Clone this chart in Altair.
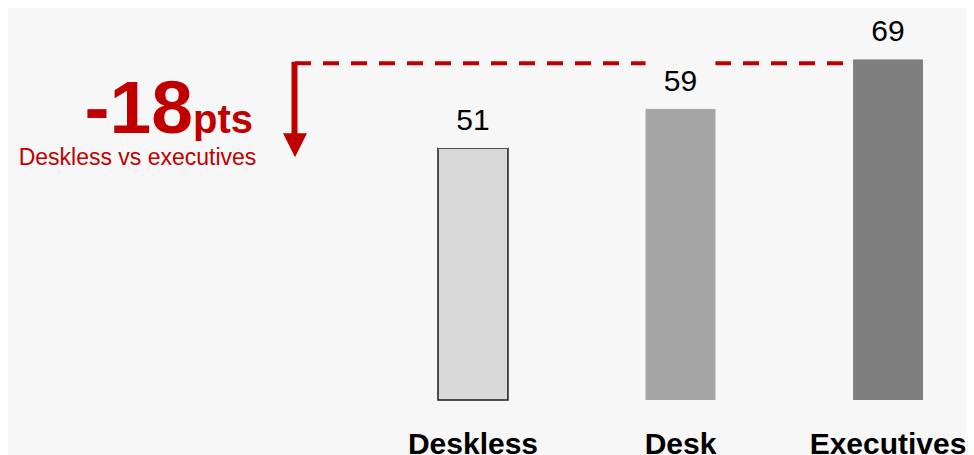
import altair as alt
import pandas as pd

# ---- data ----
categories = ["Deskless", "Desk", "Executives"]
values = [51, 59, 69]
bar_fills = ["#d9d9d9", "#a6a6a6", "#7f7f7f"]
bar_strokes = ["#1a1a1a", "transparent", "transparent"]
gap_pts = values[0] - values[-1]          # -18
headline = f"{gap_pts}"
unit = "pts"
subtitle = "Deskless vs executives"

RED = "#c00000"
BG = "#f7f7f7"
FONT = "Liberation Sans"

df = pd.DataFrame({"cat": categories, "value": values})
top_df = pd.DataFrame({"value": [max(values)]})
one = pd.DataFrame({"k": [0]})

x_scale = alt.Scale(domain=categories, range=[430, 915], paddingInner=0.663, paddingOuter=0)
y_scale = alt.Scale(domain=[0, 80], range=[392, -3])

x_enc = alt.X(
    "cat:N", scale=x_scale, sort=categories,
    axis=alt.Axis(title=None, domain=False, ticks=False, tickSize=0, labelAngle=0,
                  labelFontSize=30, labelFontWeight="bold", labelColor="#000000",
                  labelFont=FONT, labelPadding=21, labelLimit=400),
)
y_enc = alt.Y("value:Q", scale=y_scale, axis=None)

bars = alt.Chart(df).mark_bar(strokeWidth=1.5).encode(
    x=x_enc, y=y_enc,
    color=alt.Color("cat:N", scale=alt.Scale(domain=categories, range=bar_fills), legend=None),
    stroke=alt.Stroke("cat:N", scale=alt.Scale(domain=categories, range=bar_strokes), legend=None),
)

dash = alt.Chart(top_df).mark_rule(color=RED, strokeWidth=4, strokeDash=[16, 12], yOffset=4).encode(
    y=y_enc, x=alt.value(287), x2=alt.value(840)
)

gaps = alt.Chart(df).transform_calculate(top="datum.value + 10").mark_rect(fill=BG).encode(
    x=x_enc, y=y_enc, y2="top:Q"
)

vlabels = alt.Chart(df).mark_text(dy=-18, baseline="alphabetic", fontSize=30, font=FONT, color="#000000").encode(
    x=x_enc, y=y_enc, text="value:Q"
)

vline = alt.Chart(one).mark_rule(color=RED, strokeWidth=6).encode(
    x=alt.value(286.5), y=alt.value(53.7), y2=alt.value(130)
)

head = alt.Chart(one).mark_point(shape="M-1,-1L1,-1L0,1Z", size=576, filled=True, color=RED,
                                 opacity=1, strokeWidth=0).encode(
    x=alt.value(287), y=alt.value(137.3)
)

big = alt.Chart(one).mark_text(text=headline, align="right", baseline="alphabetic", fontSize=75,
                               fontWeight="bold", font=FONT, color=RED).encode(
    x=alt.value(185), y=alt.value(125)
)
small = alt.Chart(one).mark_text(text=unit, align="left", baseline="alphabetic", fontSize=40,
                                 fontWeight="bold", font=FONT, color=RED).encode(
    x=alt.value(185), y=alt.value(125)
)
sub = alt.Chart(one).mark_text(text=subtitle, align="center", baseline="alphabetic", fontSize=23,
                               font=FONT, color=RED).encode(
    x=alt.value(129.5), y=alt.value(157)
)

chart = alt.layer(bars, dash, gaps, vlabels, vline, head, big, small, sub).properties(
    width=958, height=400, background=BG, padding=0
).configure_view(stroke=None)

chart.save("out.html", embed_options={"renderer": "svg", "actions": False})
